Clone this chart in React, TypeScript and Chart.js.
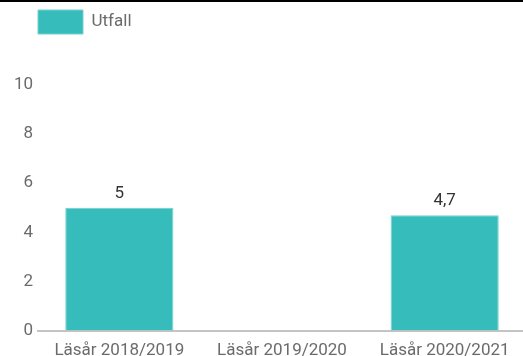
import React, { useEffect, useRef } from "react";
import { Chart, registerables } from "chart.js";

Chart.register(...registerables);

const categories = ["Läsår 2018/2019", "Läsår 2019/2020", "Läsår 2020/2021"];
const utfall: (number | null)[] = [5, null, 4.7];
const seriesName = "Utfall";
const yMin = 0;
const yMax = 10;
const yStep = 2;

const barColor = "#36bcba";
const barBorder = "#72d2cf";
const tickColor = "#6b6b6b";
const labelColor = "#333333";
const fontFamily = "Roboto";
const fontSize = 17;

const fmt = (v: number) => String(v).replace(".", ",");

const valueLabelPlugin = {
  id: "valueLabels",
  afterDatasetsDraw(chart: any) {
    const ctx = chart.ctx;
    const meta = chart.getDatasetMeta(0);
    ctx.save();
    ctx.font = `${fontSize}px ${fontFamily}`;
    ctx.fillStyle = labelColor;
    ctx.textAlign = "center";
    ctx.textBaseline = "alphabetic";
    meta.data.forEach((el: any, i: number) => {
      const v = utfall[i];
      if (v === null || v === undefined) return;
      ctx.fillText(fmt(v), el.x, el.y - 10);
    });
    ctx.restore();
  },
};

const legendLayoutPlugin = {
  id: "legendLayout",
  beforeInit(chart: any) {
    const legend = chart.legend;
    if (!legend) return;
    const orig = legend.fit;
    legend.fit = function () {
      orig.call(this);
      this.height = 85;
    };
  },
  afterLayout(chart: any) {
    if (chart.legend) chart.legend.left = 28;
  },
};

export default function App() {
  const ref = useRef<HTMLCanvasElement | null>(null);

  useEffect(() => {
    document.body.style.margin = "0";
    const canvas = ref.current;
    if (!canvas) return;
    const chart = new Chart(canvas, {
      type: "bar",
      data: {
        labels: categories,
        datasets: [
          {
            label: seriesName,
            data: utfall,
            backgroundColor: barColor,
            borderColor: barBorder,
            borderWidth: 1,
            barPercentage: 0.665,
            categoryPercentage: 1,
          },
        ],
      },
      options: {
        animation: false,
        responsive: false,
        maintainAspectRatio: false,
        layout: { padding: { left: 10, right: 0, top: 0, bottom: -15 } },
        plugins: {
          legend: {
            display: true,
            position: "top",
            align: "start",
            labels: {
              boxWidth: 45,
              boxHeight: 24,
              padding: 10,
              color: tickColor,
              font: { family: fontFamily, size: fontSize },
            },
          },
          tooltip: { enabled: false },
        },
        scales: {
          x: {
            grid: { display: false, drawTicks: false },
            border: { display: true, color: "#c4c4c4", width: 2 },
            ticks: {
              color: tickColor,
              font: { family: fontFamily, size: fontSize },
              padding: 10,
              maxRotation: 0,
              autoSkip: false,
            },
          },
          y: {
            min: yMin,
            max: yMax,
            grid: { display: false, drawTicks: false },
            border: { display: false },
            ticks: {
              stepSize: yStep,
              color: tickColor,
              font: { family: fontFamily, size: fontSize },
              padding: 5,
            },
            afterFit(scale: any) {
              scale.width = 28;
            },
          },
        },
      },
      plugins: [valueLabelPlugin, legendLayoutPlugin],
    });
    return () => chart.destroy();
  }, []);

  return (
    <div style={{ position: "relative", width: 523, height: 356, overflow: "hidden" }}>
      <canvas ref={ref} width={526} height={356} style={{ display: "block" }} />
      <div
        style={{
          position: "absolute",
          left: 0,
          top: 0,
          width: 523,
          height: 2,
          background: "#000",
        }}
      />
    </div>
  );
}
